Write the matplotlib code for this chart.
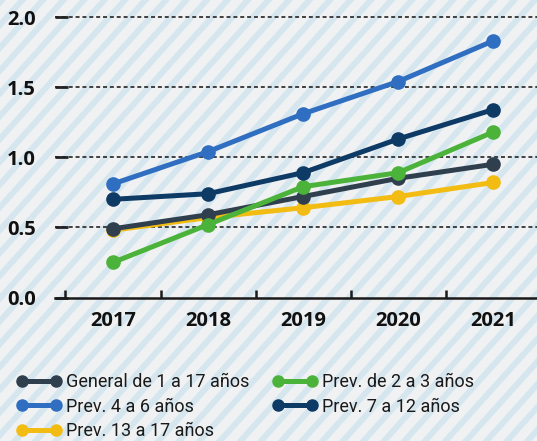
import matplotlib
matplotlib.use("Agg")
import matplotlib.pyplot as plt
from matplotlib.lines import Line2D
from matplotlib.patches import Polygon
import numpy as np

years = [2017, 2018, 2019, 2020, 2021]
general = [0.49, 0.59, 0.72, 0.85, 0.95]
prev_2_3 = [0.25, 0.52, 0.79, 0.89, 1.18]
prev_4_6 = [0.81, 1.04, 1.31, 1.54, 1.83]
prev_7_12 = [0.70, 0.74, 0.89, 1.13, 1.34]
prev_13_17 = [0.48, 0.57, 0.64, 0.72, 0.82]
labels = ["General de 1 a 17 años", "Prev. de 2 a 3 años", "Prev. 4 a 6 años",
          "Prev. 7 a 12 años", "Prev. 13 a 17 años"]
yticks = [0.0, 0.5, 1.0, 1.5, 2.0]

c_gen = "#2f3f4e"
c_green = "#4cb33a"
c_blue = "#2f6ec0"
c_navy = "#0e3a66"
c_yellow = "#f2bc12"

W, H = 537, 441
fig = plt.figure(figsize=(W / 100, H / 100), dpi=100)
fig.patch.set_facecolor("#eff1f2")

# striped background
bg = fig.add_axes([0, 0, 1, 1], zorder=-10)
bg.set_xlim(0, W)
bg.set_ylim(0, H)
bg.axis("off")
period = 20.5
sw = 8
for x0 in np.arange(-H - 40, W + 40, period):
    poly = Polygon([[x0, 0], [x0 + sw, 0], [x0 + sw + H * 0.9, H], [x0 + H * 0.9, H]],
                   closed=True, facecolor="#d6e6ef", edgecolor="none")
    bg.add_patch(poly)

ax = fig.add_axes([55 / W, (H - 297.5) / H, (W - 55) / W, (297.5 - 14.2) / H])
ax.set_facecolor("none")

lw = 3.6
ms = 9.5
series = [
    (prev_13_17, c_yellow, 2),
    (general, c_gen, 3),
    (prev_2_3, c_green, 4),
    (prev_7_12, c_navy, 5),
    (prev_4_6, c_blue, 6),
]
for vals, col, z in series:
    ax.plot(years, vals, color=col, lw=lw, marker="o", ms=ms, zorder=z,
            solid_capstyle="round")

ax.set_xlim(2016.39, 2021.46)
ax.set_ylim(0, 2.02)

for s in ["top", "right", "left"]:
    ax.spines[s].set_visible(False)
ax.spines["bottom"].set_color("#1a1a1a")
ax.spines["bottom"].set_linewidth(1.8)

ax.set_yticks(yticks)
ax.set_yticklabels([f"{v:.1f}" for v in yticks])
ax.tick_params(axis="y", direction="in", length=9, width=2, color="#222222",
               pad=14, labelsize=14.5, labelcolor="#111111")
for lab in ax.get_yticklabels():
    lab.set_fontweight("bold")
    lab.set_family("Open Sans")
for v in yticks[1:]:
    ax.axhline(v, color="#333333", lw=1.3, ls=(0, (2.2, 1.6)), zorder=1)

ax.set_xticks(years)
ax.set_xticklabels([str(y) for y in years])
ax.set_xticks([2016.5, 2017.5, 2018.5, 2019.5, 2020.5], minor=True)
ax.tick_params(axis="x", which="major", length=0, pad=10, labelsize=14.5,
               labelcolor="#111111")
ax.tick_params(axis="x", which="minor", direction="in", length=6, width=1.8,
               color="#1a1a1a")
for lab in ax.get_xticklabels():
    lab.set_fontweight("bold")
    lab.set_family("Open Sans")

# legend: row-wise order General/Green, Blue/Navy, Yellow
order = [0, 2, 4, 1, 3]
cols = [c_gen, c_green, c_blue, c_navy, c_yellow]
handles = [Line2D([0, 1], [0, 0], color=cols[i], lw=lw, marker="o", ms=8)
           for i in order]
leg_labels = [labels[i] for i in order]
leg = fig.legend(handles, leg_labels, ncol=2, loc="upper left",
                 bbox_to_anchor=(0.0, 1 - 357 / H), frameon=False,
                 numpoints=2, handlelength=2.5, handletextpad=0.25,
                 columnspacing=1.3, labelspacing=0.36,
                 prop={"family": "Roboto", "size": 13})
for t in leg.get_texts():
    t.set_color("#1a1a1a")

fig.savefig("out.png", dpi=100, facecolor=fig.get_facecolor())
